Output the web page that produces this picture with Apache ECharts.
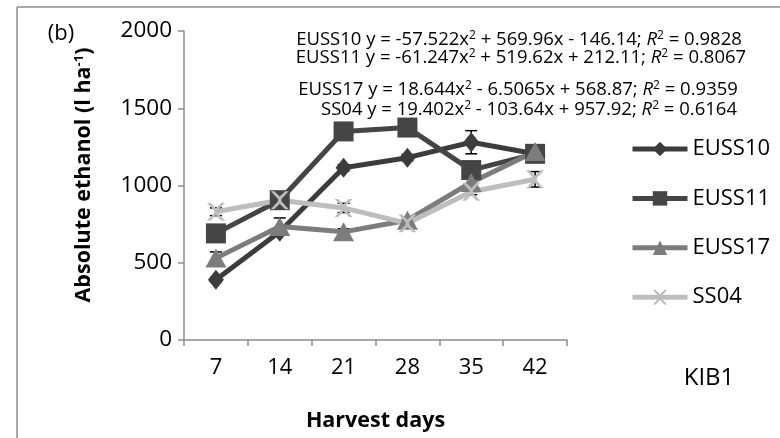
<!DOCTYPE html>
<html>
<head>
<meta charset="utf-8">
<script src="https://cdn.jsdelivr.net/npm/echarts@6/dist/echarts.min.js"></script>
<style>
  html, body { margin: 0; padding: 0; background: #fff; }
  #chart { width: 780px; height: 438px; }
</style>
</head>
<body>
<div id="chart"></div>
<script>
// Harvest days on the x axis
const days = ['7', '14', '21', '28', '35', '42'];

// Absolute ethanol yield (l ha-1) per cultivar
const euss10 = [390, 700, 1115, 1180, 1280, 1205];
const euss11 = [690, 905, 1350, 1375, 1100, 1205];
const euss17 = [530, 735, 700, 775, 1020, 1220];
const ss04   = [830, 905, 855, 755, 960, 1040];

// Standard errors
const euss10Err = [15, 20, 20, 20, 75, 15];
const euss11Err = [20, 20, 20, 20, 20, 20];
const euss17Err = [40, 55, 20, 20, 20, 20];
const ss04Err   = [25, 20, 30, 20, 20, 50];

// Fitted trend equations shown above the plot
const equations = [
  { name: 'EUSS10', a: '-57.522', b: '+ 569.96x - 146.14', r2: '0.9828' },
  { name: 'EUSS11', a: '-61.247', b: '+ 519.62x + 212.11', r2: '0.8067' },
  { name: 'EUSS17', a: '18.644', b: '- 6.5065x + 568.87', r2: '0.9359' },
  { name: 'SS04', a: '19.402', b: '- 103.64x + 957.92', r2: '0.6164' }
];

const yTicks = { min: 0, max: 2000, interval: 500 };

const FONT = '"Open Sans", "DejaVu Sans", sans-serif';
const chart = echarts.init(document.getElementById('chart'));

function errorSeries(values, errs) {
  return {
    type: 'custom',
    z: 1,
    silent: true,
    data: values.map((v, i) => [i, v, errs[i]]),
    renderItem: function (params, api) {
      const i = api.value(0), v = api.value(1), e = api.value(2);
      const hi = api.coord([i, v + e]);
      const lo = api.coord([i, v - e]);
      const w = 6;
      const style = { stroke: '#000', lineWidth: 1.5 };
      return {
        type: 'group',
        children: [
          { type: 'line', shape: { x1: hi[0], y1: hi[1], x2: lo[0], y2: lo[1] }, style: style },
          { type: 'line', shape: { x1: hi[0] - w, y1: hi[1], x2: hi[0] + w, y2: hi[1] }, style: style },
          { type: 'line', shape: { x1: lo[0] - w, y1: lo[1], x2: lo[0] + w, y2: lo[1] }, style: style }
        ]
      };
    }
  };
}

function lineSeries(name, values, color, symbol, size) {
  return {
    name: name,
    type: 'line',
    z: 3,
    data: values,
    symbol: symbol,
    symbolSize: size,
    showSymbol: true,
    lineStyle: { color: color, width: 5 },
    itemStyle: { color: color, borderWidth: 0 },
    emphasis: { disabled: true }
  };
}

// "x" shaped marker for SS04
const crossPath = 'path://M0,0 L2,0 L5,3 L8,0 L10,0 L6,4.2 L6,5.8 L10,10 L8,10 L5,7 L2,10 L0,10 L4,5.8 L4,4.2 Z';

const eqRich = {
  t: { fontFamily: FONT, fontSize: 18.5, color: '#000' },
  sup: { fontFamily: FONT, fontSize: 12, color: '#000', verticalAlign: 'top', padding: [0, 0, 8, 0] },
  it: { fontFamily: FONT, fontSize: 18.5, fontStyle: 'italic', color: '#000' }
};
const eqY = [40, 58, 90, 110];
const eqX = [519, 521, 518, 529];

const graphics = [
  // outer frame (top and left edges)
  { type: 'line', shape: { x1: 17, y1: 7, x2: 780, y2: 7 }, style: { stroke: '#8c8c8c', lineWidth: 1.5 }, silent: true },
  { type: 'line', shape: { x1: 17, y1: 7, x2: 17, y2: 438 }, style: { stroke: '#8c8c8c', lineWidth: 1.5 }, silent: true },
  { type: 'text', x: 61, y: 34, style: { text: '(b)', fontFamily: FONT, fontSize: 22, fill: '#000', align: 'center', verticalAlign: 'middle' } },
  { type: 'text', x: 709, y: 378, style: { text: 'KIB1', fontFamily: FONT, fontSize: 24, fill: '#000', align: 'center', verticalAlign: 'middle' } },
  {
    type: 'text', x: 84, y: 175, rotation: Math.PI / 2,
    style: {
      text: '{b|Absolute ethanol (l ha}{s|-1}{b|)}',
      align: 'center', verticalAlign: 'middle',
      rich: {
        b: { fontFamily: FONT, fontSize: 21.5, fontWeight: 'bold', color: '#000' },
        s: { fontFamily: FONT, fontSize: 13, fontWeight: 'bold', color: '#000', verticalAlign: 'top', padding: [0, 0, 9, 0] }
      }
    }
  }
];
equations.forEach((eq, k) => {
  graphics.push({
    type: 'text', x: eqX[k], y: eqY[k],
    style: {
      text: '{t|' + eq.name + ' y = ' + eq.a + 'x}{sup|2}{t| ' + eq.b + '; }{it|R}{sup|2}{t| = ' + eq.r2 + '}',
      align: 'center', verticalAlign: 'middle',
      rich: eqRich
    },
    z: 10
  });
});

chart.setOption({
  animation: false,
  backgroundColor: '#fff',
  textStyle: { fontFamily: FONT },
  grid: { left: 184, right: 213, top: 31, bottom: 98 },
  legend: {
    orient: 'vertical',
    left: 625,
    top: 133,
    itemWidth: 55,
    itemHeight: 18,
    itemGap: 27.4,
    lineStyle: { width: 5 },
    textStyle: { fontFamily: FONT, fontSize: 22, lineHeight: 18, color: '#000' },
    data: ['EUSS10', 'EUSS11', 'EUSS17', 'SS04']
  },
  xAxis: {
    type: 'category',
    data: days,
    boundaryGap: true,
    name: 'Harvest days',
    nameLocation: 'middle',
    nameGap: 70,
    nameTextStyle: { fontFamily: FONT, fontSize: 21.5, fontWeight: 'bold', color: '#000' },
    axisLine: { lineStyle: { color: '#8c8c8c', width: 1.5 } },
    axisTick: { show: true, length: 6, lineStyle: { color: '#8c8c8c', width: 1.5 } },
    axisLabel: { fontFamily: FONT, fontSize: 22, color: '#000', margin: 17 },
    splitLine: { show: false }
  },
  yAxis: {
    type: 'value',
    min: yTicks.min,
    max: yTicks.max,
    interval: yTicks.interval,
    axisLine: { show: true, lineStyle: { color: '#8c8c8c', width: 1.5 } },
    axisTick: { show: true, length: 6, lineStyle: { color: '#8c8c8c', width: 1.5 } },
    axisLabel: { fontFamily: FONT, fontSize: 22.5, color: '#000', margin: 12, formatter: v => String(v) },
    splitLine: { show: false }
  },
  series: [
    errorSeries(euss10, euss10Err),
    errorSeries(euss11, euss11Err),
    errorSeries(euss17, euss17Err),
    errorSeries(ss04, ss04Err),
    lineSeries('EUSS10', euss10, '#3c3c3c', 'diamond', [16, 20]),
    lineSeries('EUSS11', euss11, '#454545', 'rect', 20),
    lineSeries('EUSS17', euss17, '#7c7c7c', 'triangle', [21, 19]),
    lineSeries('SS04', ss04, '#bdbdbd', crossPath, 18)
  ],
  graphic: graphics
});
</script>
</body>
</html>
